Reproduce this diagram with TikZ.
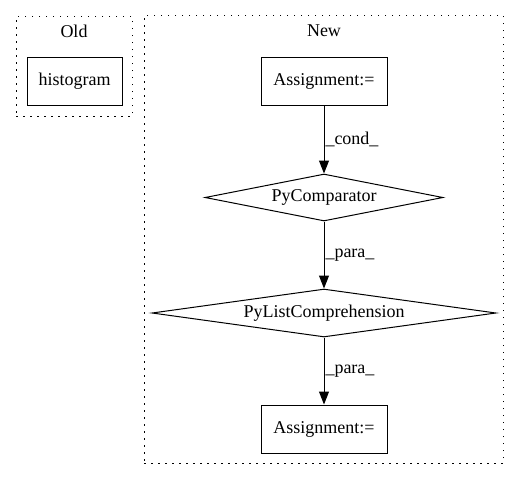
\documentclass[tikz,border=0pt]{standalone}
\usepackage{fontspec}
\setmainfont{Liberation Serif}
\usetikzlibrary{positioning,arrows.meta,shapes.geometric}

\begin{document}
\begin{tikzpicture}[x=1pt,y=-1pt,font=\fontsize{18}{20}\selectfont,
  blk/.style={draw,line width=1pt,minimum width=126pt,minimum height=48pt,inner sep=2pt},
  dia/.style={diamond,draw,line width=1pt,aspect=6,inner sep=0pt},
  clu/.style={draw,line width=1pt,dash pattern=on 1.5pt off 5.5pt,inner sep=0pt},
  lab/.style={right,inner sep=1pt},
  ar/.style={-{Triangle[length=13pt,width=10pt]},line width=1pt}]
\useasboundingbox (0,0) rectangle (520,480);
% ---- old graph
\node[clu,minimum width=116pt,minimum height=100pt] (old) at (74,66) {};
\node (oldlab) at (74,31) {Old};
\node[blk,minimum width=95pt] (hist) at (74.5,81) {histogram};
% ---- new graph
\node[clu,minimum width=359pt,minimum height=448pt] (new) at (323.5,239) {};
\node (newlab) at (324,31) {New};
\node[blk] (asg1) at (324,81) {Assignment:=};
\node[dia,minimum width=238pt,minimum height=47pt] (cmp) at (324,197.5) {PyComparator};
\node[dia,minimum width=344pt,minimum height=48pt] (lc) at (324,313) {PyListComprehension};
\node[blk] (asg2) at (324,429) {Assignment:=};
% ---- connections
\draw[ar] (asg1) -- node[lab]{\_cond\_} (cmp);
\draw[ar] (cmp) -- node[lab]{\_para\_} (lc);
\draw[ar] (lc) -- node[lab]{\_para\_} (asg2);
\end{tikzpicture}
\end{document}
